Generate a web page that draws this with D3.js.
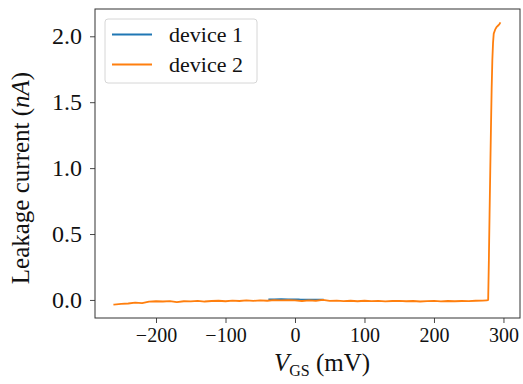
<!DOCTYPE html>
<html>
<head>
<meta charset="utf-8">
<script src="https://cdn.jsdelivr.net/npm/d3@7"></script>
<style>
  html, body { margin: 0; padding: 0; background: #fff; }
  svg { display: block; }
  text { font-family: "Liberation Serif", "DejaVu Serif", serif; fill: #111; }
</style>
</head>
<body>
<svg id="chart" width="523" height="384"></svg>
<script>
// Gate-source voltage sweep (mV) and leakage current (nA) per device
const device1V = [-37, -30, -20, -10, 0, 5, 8, 10, 15, 20, 30, 40];
const device1I = [0.005, 0.005, 0.006, 0.005, 0.005, 0.004, 0.002, 0.002, 0.003, 0.003, 0.003, 0.003];

const device2V = [-260, -250, -240, -230, -220, -210, -200, -190, -180, -170, -160, -150, -140, -130,
  -120, -110, -100, -90, -80, -70, -60, -50, -40, -30, -20, -10, 0, 10, 20, 30, 40, 50, 60, 70, 80,
  90, 100, 110, 120, 130, 140, 150, 160, 170, 180, 190, 200, 210, 220, 230, 240, 250, 260, 270, 276,
  278, 279, 280, 281, 282, 283, 284, 285, 286, 288, 290, 292, 294, 295];
const device2I = [-0.035, -0.030, -0.027, -0.021, -0.024, -0.013, -0.010, -0.012, -0.009, -0.016,
  -0.010, -0.011, -0.007, -0.012, -0.008, -0.006, -0.010, -0.005, -0.008, -0.004, -0.007, -0.003,
  -0.006, -0.002, -0.004, -0.001, -0.003, -0.008, -0.004, -0.006, 0.000, -0.007, -0.005, -0.009,
  -0.006, -0.010, -0.006, -0.009, -0.007, -0.011, -0.008, -0.007, -0.010, -0.008, -0.012, -0.009,
  -0.007, -0.011, -0.008, -0.010, -0.008, -0.009, -0.006, -0.005, -0.004,
  0.000, 0.30, 0.65, 0.98, 1.30, 1.60, 1.82, 1.95, 2.02, 2.05, 2.07, 2.08, 2.09, 2.10];

const seriesNames = ["device 1", "device 2"];
const seriesColors = ["#1f77b4", "#ff7f0e"];

const xTicks = [-200, -100, 0, 100, 200, 300];
const yTicks = [0.0, 0.5, 1.0, 1.5, 2.0];

const svg = d3.select("#chart");
const frame = { left: 95, right: 520, top: 9, bottom: 318 };

const x = d3.scaleLinear().domain([-287.8, 323.8]).range([frame.left, frame.right]);
const y = d3.scaleLinear().domain([-0.137, 2.207]).range([frame.bottom, frame.top]);

const fmtMinus = s => s.replace("-", "\u2212");

// axes
const xAxis = d3.axisBottom(x).tickValues(xTicks).tickSize(5).tickPadding(5)
  .tickFormat(d => fmtMinus(d3.format("d")(d)));
const yAxis = d3.axisLeft(y).tickValues(yTicks).tickSize(5).tickPadding(8)
  .tickFormat(d3.format(".1f"));

const gx = svg.append("g").attr("transform", `translate(0,${frame.bottom})`).call(xAxis);
const gy = svg.append("g").attr("transform", `translate(${frame.left},0)`).call(yAxis);
[gx, gy].forEach(g => {
  g.select(".domain").remove();
  g.selectAll(".tick line").attr("stroke", "#333").attr("stroke-width", 0.9);
});
gx.selectAll(".tick text").attr("font-size", 20)
  .attr("font-family", "DejaVu Sans, sans-serif").attr("fill", "#111");
gy.selectAll(".tick text").attr("font-size", 24)
  .attr("font-family", "Liberation Serif, serif").attr("fill", "#111");

// data lines
const line = d3.line().x(d => x(d[0])).y(d => y(d[1]));
svg.append("clipPath").attr("id", "plotClip").append("rect")
  .attr("x", frame.left).attr("y", frame.top)
  .attr("width", frame.right - frame.left).attr("height", frame.bottom - frame.top);

const plot = svg.append("g").attr("clip-path", "url(#plotClip)");
plot.append("path")
  .datum(device1V.map((v, i) => [v, device1I[i]]))
  .attr("d", line).attr("fill", "none")
  .attr("stroke", seriesColors[0]).attr("stroke-width", 1.8)
  .attr("stroke-linejoin", "round").attr("stroke-linecap", "square");
plot.append("path")
  .datum(device2V.map((v, i) => [v, device2I[i]]))
  .attr("d", line).attr("fill", "none")
  .attr("stroke", seriesColors[1]).attr("stroke-width", 1.8)
  .attr("stroke-linejoin", "round").attr("stroke-linecap", "square");

// frame
svg.append("rect")
  .attr("x", frame.left).attr("y", frame.top)
  .attr("width", frame.right - frame.left).attr("height", frame.bottom - frame.top)
  .attr("fill", "none").attr("stroke", "#333").attr("stroke-width", 1);

// legend
const legend = svg.append("g").attr("transform", "translate(105,19)");
legend.append("rect")
  .attr("width", 152).attr("height", 64).attr("rx", 3)
  .attr("fill", "#fff").attr("fill-opacity", 0.8)
  .attr("stroke", "#d6d6d6").attr("stroke-width", 1);
seriesNames.forEach((name, i) => {
  const cy = 15.5 + i * 30;
  legend.append("line")
    .attr("x1", 7).attr("x2", 47).attr("y1", cy).attr("y2", cy)
    .attr("stroke", seriesColors[i]).attr("stroke-width", 1.8);
  legend.append("text")
    .attr("x", 64).attr("y", cy).attr("dy", "0.33em")
    .attr("font-size", 22).text(name);
});

// axis titles
const yTitle = svg.append("text")
  .attr("transform", "translate(29,178) rotate(-90)")
  .attr("text-anchor", "middle").attr("font-size", 25);
yTitle.append("tspan").text("Leakage current (");
yTitle.append("tspan").attr("font-style", "italic").text("nA");
yTitle.append("tspan").text(")");

const xTitle = svg.append("text")
  .attr("x", 322).attr("y", 371)
  .attr("text-anchor", "middle").attr("font-size", 25);
xTitle.append("tspan").attr("font-style", "italic").text("V");
xTitle.append("tspan").attr("font-size", 16).attr("dy", 5).text("GS");
xTitle.append("tspan").attr("dy", -5).text(" (mV)");
</script>
</body>
</html>
